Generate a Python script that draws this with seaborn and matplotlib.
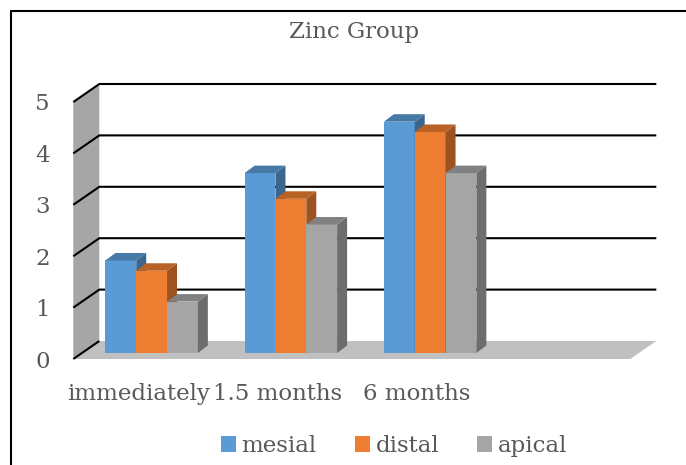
import numpy as np
import pandas as pd
import matplotlib
matplotlib.use("Agg")
import matplotlib.pyplot as plt
import matplotlib.colors as mcolors
from matplotlib.patches import Polygon, Patch
from matplotlib.lines import Line2D
from matplotlib.transforms import ScaledTranslation
import seaborn as sns

# ---- data ----
categories = ["immediately", "1.5 months", "6 months"]
series = ["mesial", "distal", "apical"]
mesial = [1.8, 3.5, 4.5]
distal = [1.6, 3.0, 4.3]
apical = [1.0, 2.5, 3.5]
y_ticks = [0, 1, 2, 3, 4, 5]
title = "Zinc Group"
colors = ["#5b9bd5", "#ed7d31", "#a5a5a5"]

sns.set_style("white")
plt.rcParams["font.family"] = ["DejaVu Serif"]
TEXT = "#595959"
FS = 16.5

rows = []
for name, vals in zip(series, [mesial, distal, apical]):
    for cat, v in zip(categories, vals):
        rows.append({"time": cat, "series": name, "value": v})
df = pd.DataFrame(rows)

W, H, DPI = 686, 465, 100
fig = plt.figure(figsize=(W / DPI, H / DPI), dpi=DPI)

# plane of the bar fronts (pixel extents)
pl, pr, pb, pt = 82, 639, 353, 96
ax = fig.add_axes([pl / W, 1 - pb / H, (pr - pl) / W, (pb - pt) / H])
ax.patch.set_alpha(0)

sns.barplot(data=df, x="time", y="value", hue="series", order=categories,
            hue_order=series, palette=colors, saturation=1, width=0.664,
            linewidth=0, errorbar=None, legend=False, ax=ax)
ax.set_xlim(-0.5, 3.5)
ax.set_ylim(0, 5)
for s in ax.spines.values():
    s.set_visible(False)
ax.set_xlabel("")
ax.set_ylabel("")

sx = (pr - pl) / 4.0
sy = (pb - pt) / 5.0


def off(dx_px, dy_px):
    """pixel offset (image y downwards) -> data offset"""
    return dx_px / sx, -dy_px / sy


bx, by = off(17.3, -12)   # back wall
fx, fy = off(-8.7, 6)     # front edge
ddx, ddy = off(10, -7.5)  # bar depth

x0, x1 = -0.5, 3.5
floor = Polygon([(x0 + fx, fy), (x1 + fx, fy), (x1 + bx, by), (x0 + bx, by)],
                closed=True, facecolor="#c0c0c0", edgecolor="none",
                zorder=0.5, clip_on=False)
ax.add_patch(floor)
wall = Polygon([(x0 + fx, fy), (x0 + fx, 5 + fy), (x0 + bx, 5 + by), (x0 + bx, by)],
               closed=True, facecolor="#a6a6a6", edgecolor="none",
               zorder=0.6, clip_on=False)
ax.add_patch(wall)
for v in y_ticks:
    if v == 0:
        xs = [x0 + fx, x0 + bx]
        ys = [v + fy, v + by]
    else:
        xs = [x0 + fx, x0 + bx, x1 + bx]
        ys = [v + fy, v + by, v + by]
    ax.plot(xs, ys, color="black", lw=1.5, zorder=0.8, clip_on=False,
            solid_capstyle="butt", solid_joinstyle="miter")


def shade(c, k):
    r, g, b = mcolors.to_rgb(c)
    return (r * k, g * k, b * k)


bars = [p for p in ax.patches if isinstance(p, matplotlib.patches.Rectangle)
        and p not in (floor, wall)]
for p in bars:
    fc = mcolors.to_hex(p.get_facecolor())
    i = [mcolors.to_hex(c) for c in colors].index(fc)
    x, w, h = p.get_x(), p.get_width(), p.get_height()
    p.set_zorder(2 + 2 * i)
    side = Polygon([(x + w, 0), (x + w, h), (x + w + ddx, h + ddy), (x + w + ddx, ddy)],
                   closed=True, facecolor=shade(colors[i], 0.66), edgecolor="none",
                   zorder=3 + 2 * i, clip_on=False)
    top = Polygon([(x, h), (x + w, h), (x + w + ddx, h + ddy), (x + ddx, h + ddy)],
                  closed=True, facecolor=shade(colors[i], 0.78), edgecolor="none",
                  zorder=3 + 2 * i, clip_on=False)
    ax.add_patch(side)
    ax.add_patch(top)

# axis labels on the front edge
ax.set_yticks(y_ticks)
ax.set_yticklabels([str(v) for v in y_ticks])
ax.tick_params(axis="y", length=0, pad=16.8, labelsize=FS, labelcolor=TEXT)
ax.set_xticks(range(len(categories)))
ax.set_xticklabels(categories)
ax.tick_params(axis="x", length=0, pad=17.0, labelsize=FS, labelcolor=TEXT)

ysh = ScaledTranslation(-8.7 / DPI, -6 / DPI, fig.dpi_scale_trans)
for lab in ax.get_yticklabels():
    lab.set_transform(lab.get_transform() + ysh)
xsh = ScaledTranslation(-13 / DPI, -6 / DPI, fig.dpi_scale_trans)
for lab in ax.get_xticklabels():
    lab.set_transform(lab.get_transform() + xsh)

fig.text(354 / W, 1 - 38 / H, title, ha="center", va="baseline",
         fontsize=FS, color=TEXT)

handles = [Patch(facecolor=c, edgecolor="none") for c in colors]
fig.legend(handles, series, loc="center", bbox_to_anchor=(394 / W, 1 - 446 / H),
           ncol=3, frameon=False, fontsize=FS, handlelength=0.65,
           handleheight=0.65, handletextpad=0.26, columnspacing=1.65,
           borderpad=0, labelcolor=TEXT)

# chart frame (top and left edges)
fig.add_artist(Line2D([10.5 / W, 1], [1 - 11.5 / H, 1 - 11.5 / H],
                      transform=fig.transFigure, color="black", lw=1.5))
fig.add_artist(Line2D([10.5 / W, 10.5 / W], [1 - 11.5 / H, 0],
                      transform=fig.transFigure, color="black", lw=1.5))

fig.savefig("out.png", dpi=DPI)
